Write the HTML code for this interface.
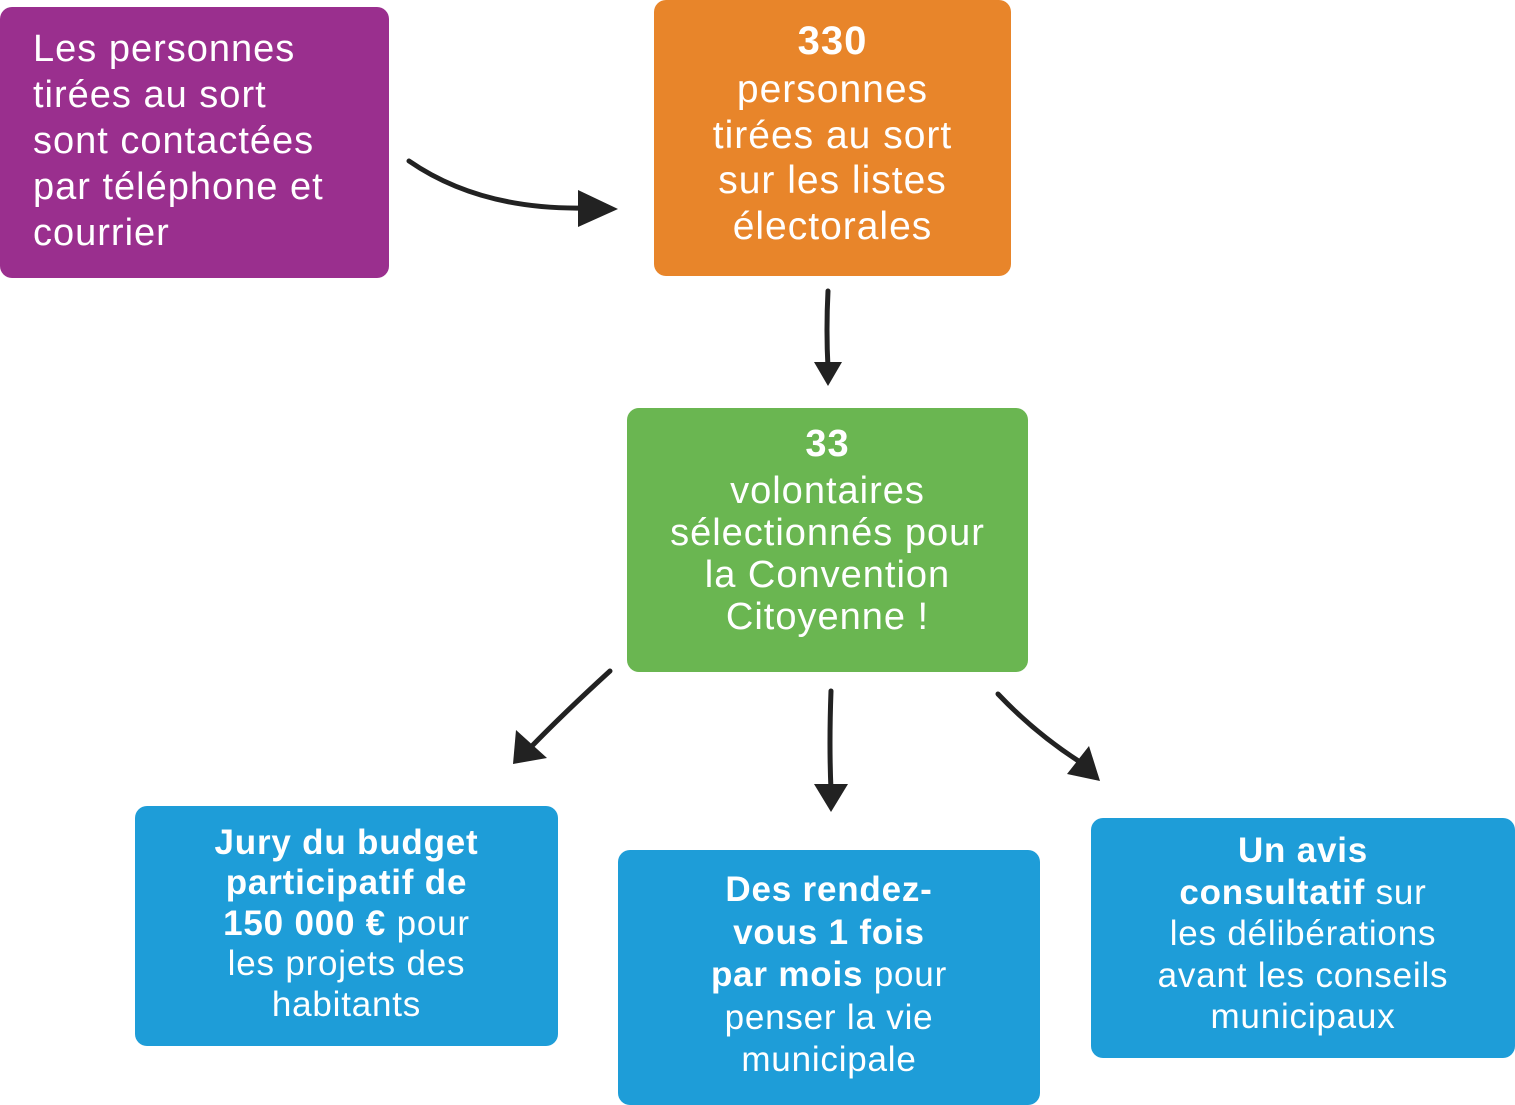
<!DOCTYPE html>
<html><head><meta charset="utf-8"><style>
html,body{margin:0;padding:0;background:#fff;}
body{width:1515px;height:1105px;position:relative;overflow:hidden;font-family:"Liberation Sans",sans-serif;color:#fff;letter-spacing:1px;}
.b{position:absolute;border-radius:12px;box-sizing:border-box;}
.c{text-align:center;display:flex;flex-direction:column;justify-content:center;}
b{font-weight:bold;}
</style></head><body>
<div class="b" style="left:0;top:7px;width:389px;height:271px;background:#9a2f8e;padding:19px 0 0 33px;font-size:38px;line-height:46px;">Les personnes<br>tirées au sort<br>sont contactées<br>par téléphone et<br>courrier</div>
<div class="b c" style="left:654px;top:0;width:357px;height:276px;background:#e8852a;font-size:39px;line-height:45.5px;padding-bottom:12px;"><b style="font-size:40px;line-height:52px;">330</b>personnes<br>tirées au sort<br>sur les listes<br>électorales</div>
<div class="b c" style="left:627px;top:408px;width:401px;height:264px;background:#6ab651;font-size:38px;line-height:42px;padding-bottom:24px;"><b style="line-height:52px;">33</b>volontaires<br>sélectionnés pour<br>la Convention<br>Citoyenne !</div>
<div class="b c" style="left:135px;top:806px;width:423px;height:240px;background:#1e9dd8;font-size:35px;line-height:40.5px;padding-bottom:4px;letter-spacing:0.8px;"><span><b>Jury du budget<br>participatif de<br>150 000 €</b> pour<br>les projets des<br>habitants</span></div>
<div class="b c" style="left:618px;top:850px;width:422px;height:255px;background:#1e9dd8;font-size:35px;line-height:42.5px;padding-bottom:4px;letter-spacing:0.8px;"><span><b>Des rendez-<br>vous 1 fois<br>par mois</b> pour<br>penser la vie<br>municipale</span></div>
<div class="b c" style="left:1091px;top:818px;width:424px;height:240px;background:#1e9dd8;font-size:35px;line-height:41.5px;padding-bottom:8px;letter-spacing:0.8px;"><span><b>Un avis<br>consultatif</b> sur<br>les délibérations<br>avant les conseils<br>municipaux</span></div>
<svg width="1515" height="1105" style="position:absolute;left:0;top:0" fill="none" stroke="#222" stroke-width="5" stroke-linecap="round">
<path d="M409 161 Q480 210 585 208"/><polygon fill="#222" stroke="none" points="578,190 618,209 578,227"/>
<path d="M828 291 Q826 330 828 368"/><polygon fill="#222" stroke="none" points="814,362 842,362 828,386"/>
<path d="M610 671 Q565 712 530 748"/><polygon fill="#222" stroke="none" points="516,730 513,764 547,758"/>
<path d="M831 691 Q829 745 831 790"/><polygon fill="#222" stroke="none" points="814,784 848,784 831,812"/>
<path d="M998 694 Q1035 733 1080 762"/><polygon fill="#222" stroke="none" points="1067,774 1100,781 1089,746"/>
</svg>
</body></html>
